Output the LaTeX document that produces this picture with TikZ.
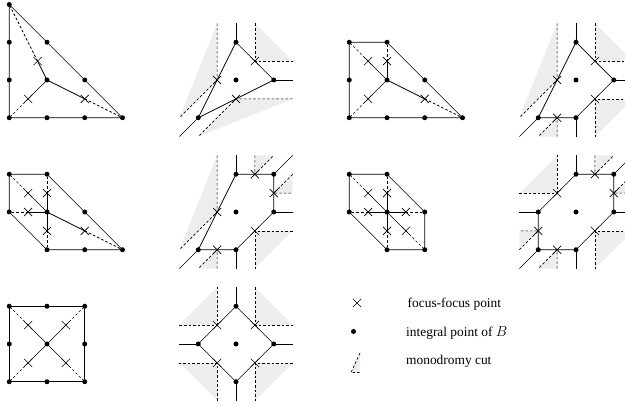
\documentclass[tikz,border=0pt]{standalone}
\usepackage{fontspec}
\setmainfont{Liberation Serif}
\usetikzlibrary{shapes.misc}
\begin{document}
\begin{tikzpicture}[x=1pt,y=-1pt,
  dot/.style={circle, fill=black, inner sep=0pt, minimum size=5pt},
  ff/.style={cross out, draw=black, line width=0.6pt, inner sep=0pt, minimum size=7.5pt},
  solidln/.style={line width=0.7pt, draw=black},
  cutline/.style={line width=0.7pt, draw=black, dash pattern=on 2.6pt off 2pt},
  cutfill/.style={fill=black!7},
  unitgrid/.style={x=37.75pt, y=37.75pt},
  lbl/.style={anchor=base west, inner sep=0pt, font=\fontsize{13.4}{16}\selectfont}]
\useasboundingbox (0,0) rectangle (625,406);
\clip (0,0) rectangle (625,406);

% ---------------- Panel 1 ----------------
\begin{scope}[shift={(47,80)}, unitgrid]
  \foreach \n/\px/\py in {a/-1/-1, b/0/-1, c/1/-1, d/2/-1, e/-1/0, f/-1/1, g/-1/2, h/0/1, i/1/0, o/0/0}
    \node[dot] (P1\n) at (\px,\py) {};
  \draw[solidln] (P1a.center) -- (P1d.center) -- (P1g.center) -- cycle;
  \foreach \i/\cx/\cy/\v in {1/-0.25/0.5/g, 2/-0.5/-0.5/a, 3/1/-0.5/d} {
    \node[ff] (P1x\i) at (\cx,\cy) {};
    \draw[solidln] (P1o.center) -- (P1x\i.center);
    \draw[cutline] (P1x\i.center) -- (P1\v.center);
  }
\end{scope}

% ---------------- Panel 3 ----------------
\begin{scope}[shift={(387,80)}, unitgrid]
  \foreach \n/\px/\py in {a/-1/-1, b/0/-1, c/1/-1, d/2/-1, e/1/0, f/0/1, g/-1/1, h/-1/0, o/0/0}
    \node[dot] (P3\n) at (\px,\py) {};
  \draw[solidln] (P3a.center) -- (P3d.center) -- (P3f.center) -- (P3g.center) -- cycle;
  \foreach \i/\cx/\cy/\v in {1/-0.5/0.5/g, 2/0/0.5/f, 3/-0.5/-0.5/a, 4/1/-0.5/d} {
    \node[ff] (P3x\i) at (\cx,\cy) {};
    \draw[solidln] (P3o.center) -- (P3x\i.center);
    \draw[cutline] (P3x\i.center) -- (P3\v.center);
  }
\end{scope}

% ---------------- Panel 5 ----------------
\begin{scope}[shift={(47,212)}, unitgrid]
  \foreach \n/\px/\py in {a/-1/0, b/-1/1, c/0/1, d/1/0, e/2/-1, f/1/-1, g/0/-1, o/0/0}
    \node[dot] (P5\n) at (\px,\py) {};
  \draw[solidln] (P5a.center) -- (P5b.center) -- (P5c.center) -- (P5e.center) -- (P5g.center) -- cycle;
  \foreach \i/\cx/\cy/\v in {1/-0.5/0.5/b, 2/0/0.5/c, 3/-0.5/0/a, 4/0/-0.5/g, 5/1/-0.5/e} {
    \node[ff] (P5x\i) at (\cx,\cy) {};
    \draw[solidln] (P5o.center) -- (P5x\i.center);
    \draw[cutline] (P5x\i.center) -- (P5\v.center);
  }
\end{scope}

% ---------------- Panel 7 ----------------
\begin{scope}[shift={(387,212)}, unitgrid]
  \foreach \n/\px/\py in {a/-1/1, b/0/1, c/1/0, d/1/-1, e/0/-1, f/-1/0, o/0/0}
    \node[dot] (P7\n) at (\px,\py) {};
  \draw[solidln] (P7a.center) -- (P7b.center) -- (P7c.center) -- (P7d.center) -- (P7e.center) -- (P7f.center) -- cycle;
  \foreach \i/\cx/\cy/\v in {1/-0.5/0.5/a, 2/0/0.5/b, 3/0.5/0/c, 4/0.5/-0.5/d, 5/0/-0.5/e, 6/-0.5/0/f} {
    \node[ff] (P7x\i) at (\cx,\cy) {};
    \draw[solidln] (P7o.center) -- (P7x\i.center);
    \draw[cutline] (P7x\i.center) -- (P7\v.center);
  }
\end{scope}

% ---------------- Panel 9 ----------------
\begin{scope}[shift={(47,344)}, unitgrid]
  \foreach \n/\px/\py in {a/-1/-1, b/0/-1, c/1/-1, d/1/0, e/1/1, f/0/1, g/-1/1, h/-1/0, o/0/0}
    \node[dot] (P9\n) at (\px,\py) {};
  \draw[solidln] (P9a.center) -- (P9c.center) -- (P9e.center) -- (P9g.center) -- cycle;
  \foreach \i/\cx/\cy/\v in {1/-0.5/-0.5/a, 2/0.5/-0.5/c, 3/0.5/0.5/e, 4/-0.5/0.5/g} {
    \node[ff] (P9x\i) at (\cx,\cy) {};
    \draw[solidln] (P9o.center) -- (P9x\i.center);
    \draw[cutline] (P9x\i.center) -- (P9\v.center);
  }
\end{scope}

% ---------------- Panel 2 ----------------
\begin{scope}[shift={(236,80)}, unitgrid]
  \foreach \i/\cx/\cy/\ax/\ay/\bx/\by in {1/0.5/0.5/0.5/1.5/1.5/0.5, 2/-0.5/0/-0.5/1.5/-1.5/-1, 3/0/-0.5/1.5/-0.5/-1/-1.5} {
    \coordinate (P2c\i) at (\cx,\cy);
    \coordinate (P2a\i) at (\ax,\ay);
    \coordinate (P2b\i) at (\bx,\by);
    \fill[cutfill] (P2c\i) -- (P2a\i) -- (P2b\i) -- cycle;
    \draw[cutline] (P2a\i) -- (P2c\i) -- (P2b\i);
  }
  \node[dot] (P2o) at (0,0) {};
  \foreach \i/\vx/\vy/\rx/\ry in {1/0/1/0/1.5, 2/1/0/1.5/0, 3/-1/-1/-1.5/-1.5} {
    \node[dot] (P2v\i) at (\vx,\vy) {};
    \coordinate (P2r\i) at (\rx,\ry);
    \draw[solidln] (P2v\i.center) -- (P2r\i);
  }
  \draw[solidln] (P2v1.center) -- (P2v2.center) -- (P2v3.center) -- cycle;
  \foreach \i in {1,2,3} \node[ff] (P2x\i) at (P2c\i) {};
\end{scope}

% ---------------- Panel 4 ----------------
\begin{scope}[shift={(576,80)}, unitgrid]
  \foreach \i/\cx/\cy/\ax/\ay/\bx/\by in {1/0.5/0.5/0.5/1.5/1.5/0.5, 2/0.5/-0.5/1.5/-0.5/0.5/-1.5, 3/-0.5/-1/-0.5/-1.5/-1/-1.5, 4/-0.5/0/-0.5/1.5/-1.5/-1} {
    \coordinate (P4c\i) at (\cx,\cy);
    \coordinate (P4a\i) at (\ax,\ay);
    \coordinate (P4b\i) at (\bx,\by);
    \fill[cutfill] (P4c\i) -- (P4a\i) -- (P4b\i) -- cycle;
    \draw[cutline] (P4a\i) -- (P4c\i) -- (P4b\i);
  }
  \node[dot] (P4o) at (0,0) {};
  \foreach \i/\vx/\vy/\rx/\ry in {1/0/1/0/1.5, 2/1/0/1.5/0, 3/0/-1/0/-1.5, 4/-1/-1/-1.5/-1.5} {
    \node[dot] (P4v\i) at (\vx,\vy) {};
    \coordinate (P4r\i) at (\rx,\ry);
    \draw[solidln] (P4v\i.center) -- (P4r\i);
  }
  \draw[solidln] (P4v1.center) -- (P4v2.center) -- (P4v3.center) -- (P4v4.center) -- cycle;
  \foreach \i in {1,...,4} \node[ff] (P4x\i) at (P4c\i) {};
\end{scope}

% ---------------- Panel 6 ----------------
\begin{scope}[shift={(236,212)}, unitgrid]
  \foreach \i/\cx/\cy/\ax/\ay/\bx/\by in {1/0.5/1/0.5/1.5/1/1.5, 2/1/0.5/1.5/1/1.5/0.5, 3/0.5/-0.5/1.5/-0.5/0.5/-1.5, 4/-0.5/-1/-0.5/-1.5/-1/-1.5, 5/-0.5/0/-0.5/1.5/-1.5/-1} {
    \coordinate (P6c\i) at (\cx,\cy);
    \coordinate (P6a\i) at (\ax,\ay);
    \coordinate (P6b\i) at (\bx,\by);
    \fill[cutfill] (P6c\i) -- (P6a\i) -- (P6b\i) -- cycle;
    \draw[cutline] (P6a\i) -- (P6c\i) -- (P6b\i);
  }
  \node[dot] (P6o) at (0,0) {};
  \foreach \i/\vx/\vy/\rx/\ry in {1/0/1/0/1.5, 2/1/1/1.5/1.5, 3/1/0/1.5/0, 4/0/-1/0/-1.5, 5/-1/-1/-1.5/-1.5} {
    \node[dot] (P6v\i) at (\vx,\vy) {};
    \coordinate (P6r\i) at (\rx,\ry);
    \draw[solidln] (P6v\i.center) -- (P6r\i);
  }
  \draw[solidln] (P6v1.center) -- (P6v2.center) -- (P6v3.center) -- (P6v4.center) -- (P6v5.center) -- cycle;
  \foreach \i in {1,...,5} \node[ff] (P6x\i) at (P6c\i) {};
\end{scope}

% ---------------- Panel 8 ----------------
\begin{scope}[shift={(576,212)}, unitgrid]
  \foreach \i/\cx/\cy/\ax/\ay/\bx/\by in {1/0.5/1/0.5/1.5/1/1.5, 2/1/0.5/1.5/1/1.5/0.5, 3/0.5/-0.5/1.5/-0.5/0.5/-1.5, 4/-0.5/-1/-0.5/-1.5/-1/-1.5, 5/-1/-0.5/-1.5/-1/-1.5/-0.5, 6/-0.5/0.5/-1.5/0.5/-0.5/1.5} {
    \coordinate (P8c\i) at (\cx,\cy);
    \coordinate (P8a\i) at (\ax,\ay);
    \coordinate (P8b\i) at (\bx,\by);
    \fill[cutfill] (P8c\i) -- (P8a\i) -- (P8b\i) -- cycle;
    \draw[cutline] (P8a\i) -- (P8c\i) -- (P8b\i);
  }
  \node[dot] (P8o) at (0,0) {};
  \foreach \i/\vx/\vy/\rx/\ry in {1/0/1/0/1.5, 2/1/1/1.5/1.5, 3/1/0/1.5/0, 4/0/-1/0/-1.5, 5/-1/-1/-1.5/-1.5, 6/-1/0/-1.5/0} {
    \node[dot] (P8v\i) at (\vx,\vy) {};
    \coordinate (P8r\i) at (\rx,\ry);
    \draw[solidln] (P8v\i.center) -- (P8r\i);
  }
  \draw[solidln] (P8v1.center) -- (P8v2.center) -- (P8v3.center) -- (P8v4.center) -- (P8v5.center) -- (P8v6.center) -- cycle;
  \foreach \i in {1,...,6} \node[ff] (P8x\i) at (P8c\i) {};
\end{scope}

% ---------------- Panel 10 ----------------
\begin{scope}[shift={(236,344)}, unitgrid]
  \foreach \i/\cx/\cy/\ax/\ay/\bx/\by in {1/0.5/0.5/0.5/1.5/1.5/0.5, 2/0.5/-0.5/1.5/-0.5/0.5/-1.5, 3/-0.5/-0.5/-0.5/-1.5/-1.5/-0.5, 4/-0.5/0.5/-1.5/0.5/-0.5/1.5} {
    \coordinate (P10c\i) at (\cx,\cy);
    \coordinate (P10a\i) at (\ax,\ay);
    \coordinate (P10b\i) at (\bx,\by);
    \fill[cutfill] (P10c\i) -- (P10a\i) -- (P10b\i) -- cycle;
    \draw[cutline] (P10a\i) -- (P10c\i) -- (P10b\i);
  }
  \node[dot] (P10o) at (0,0) {};
  \foreach \i/\vx/\vy/\rx/\ry in {1/0/1/0/1.5, 2/1/0/1.5/0, 3/0/-1/0/-1.5, 4/-1/0/-1.5/0} {
    \node[dot] (P10v\i) at (\vx,\vy) {};
    \coordinate (P10r\i) at (\rx,\ry);
    \draw[solidln] (P10v\i.center) -- (P10r\i);
  }
  \draw[solidln] (P10v1.center) -- (P10v2.center) -- (P10v3.center) -- (P10v4.center) -- cycle;
  \foreach \i in {1,...,4} \node[ff] (P10x\i) at (P10c\i) {};
\end{scope}

% ---------------- Legend ----------------
\node[ff] (Lx) at (357,303) {};
\node[lbl] (Lt1) at (407.5,307.5) {focus-focus point};
\node[dot] (Ld) at (353.5,331.5) {};
\node[lbl] (Lt2) at (406,336.5) {integral point of $B$};
\coordinate (Lc) at (351,372.5);
\coordinate (Lc1) at (360,353);
\coordinate (Lc2) at (360,372.5);
\fill[cutfill] (Lc) -- (Lc1) -- (Lc2) -- cycle;
\draw[cutline] (Lc1) -- (Lc) -- (Lc2);
\node[lbl] (Lt3) at (406,365) {monodromy cut};
\end{tikzpicture}
\end{document}
